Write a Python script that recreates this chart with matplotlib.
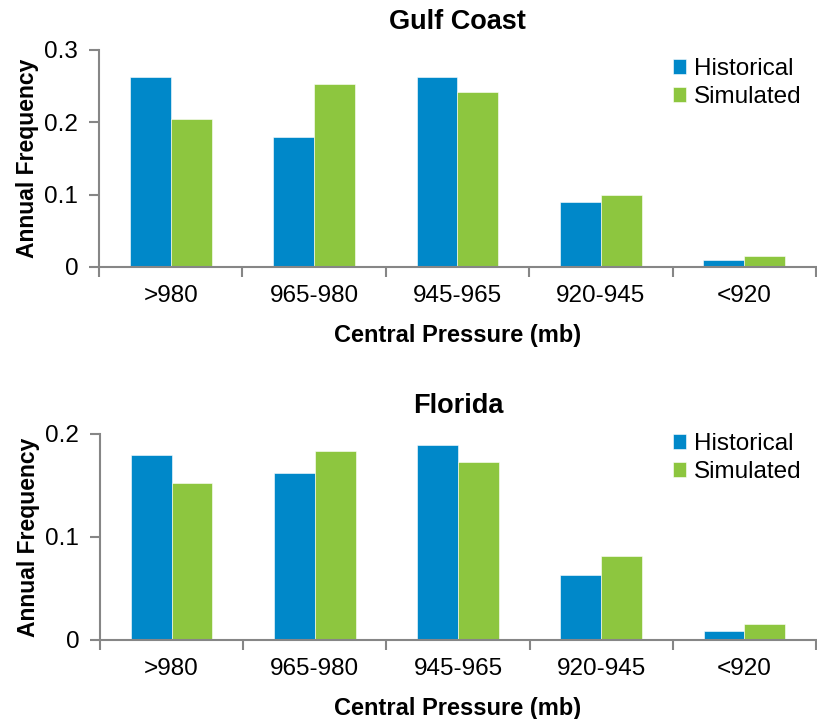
import numpy as np
import matplotlib.pyplot as plt

plt.rcParams['font.family'] = ['Liberation Sans', 'DejaVu Sans']

categories = ['>980', '965-980', '945-965', '920-945', '<920']
gulf_hist = [0.262, 0.180, 0.262, 0.090, 0.010]
gulf_sim = [0.205, 0.253, 0.242, 0.100, 0.015]
fl_hist = [0.180, 0.162, 0.189, 0.063, 0.009]
fl_sim = [0.152, 0.183, 0.173, 0.082, 0.016]

blue = '#0088c9'
green = '#8dc63f'
grey = '#868686'

fig = plt.figure(figsize=(8.17, 7.19), dpi=100)
ax1 = fig.add_axes([0.1212, 0.6287, 0.8775, 0.3018])
ax2 = fig.add_axes([0.1224, 0.1099, 0.8763, 0.2865])


def panel(ax, hist, sim, title, ymax, yticks, ytl, leg_y):
    x = np.arange(len(categories))
    w = 0.285
    ax.bar(x - w / 2, hist, w, color=blue, label='Historical', edgecolor='white', linewidth=0.4)
    ax.bar(x + w / 2, sim, w, color=green, label='Simulated', edgecolor='white', linewidth=0.4)
    ax.set_xlim(-0.5, len(categories) - 0.5)
    ax.set_ylim(0, ymax)
    ax.set_yticks(yticks)
    ax.set_yticklabels(ytl)
    ax.set_xticks(np.arange(len(categories) + 1) - 0.5)
    ax.set_xticklabels([])
    ax.set_xticks(x, minor=True)
    ax.set_xticklabels(categories, minor=True)
    ax.tick_params(axis='x', which='minor', length=0, pad=13, labelsize=17.5)
    ax.tick_params(axis='x', which='major', length=7, width=1.5, color=grey, direction='out')
    ax.tick_params(axis='y', length=7, width=1.5, color=grey, pad=8, labelsize=17.5)
    for s in ['top', 'right']:
        ax.spines[s].set_visible(False)
    for s in ['left', 'bottom']:
        ax.spines[s].set_color(grey)
        ax.spines[s].set_linewidth(1.5)
    ax.set_title(title, fontsize=19.5, fontweight='bold', pad=15)
    ax.set_xlabel('Central Pressure (mb)', fontsize=17, fontweight='bold', labelpad=12)
    ax.set_ylabel('Annual Frequency', fontsize=16.5, fontweight='bold', labelpad=4)
    ax.legend(loc='upper right', bbox_to_anchor=(1.0, leg_y), frameon=False, fontsize=17.5,
              handlelength=0.55, handleheight=0.55, handletextpad=0.3, labelspacing=0.25,
              borderaxespad=0.2)


panel(ax1, gulf_hist, gulf_sim, 'Gulf Coast', 0.3, [0, 0.1, 0.2, 0.3], ['0', '0.1', '0.2', '0.3'], 1.03)
panel(ax2, fl_hist, fl_sim, 'Florida', 0.2, [0, 0.1, 0.2], ['0', '0.1', '0.2'], 1.075)

fig.savefig('out.png', dpi=100)
